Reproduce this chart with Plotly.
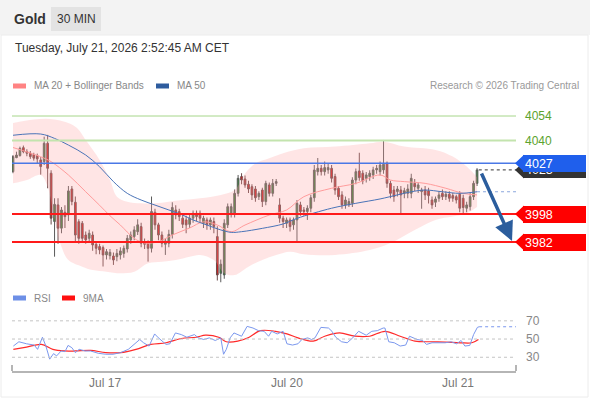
import plotly.graph_objects as go

# ---------------- data ----------------
candle_open = [4022.2, 4030.2, 4031.4, 4035.9, 4033.6, 4032.7, 4032.0, 4031.3, 4028.9, 4028.0,
               4038.4, 4021.3, 3993.7, 4003.2, 3989.9, 3999.0, 3997.5, 4012.3, 4004.7, 3993.6,
               3992.7, 3986.0, 3984.1, 3986.0, 3980.7, 3979.4, 3978.8, 3974.6, 3974.2, 3974.0,
               3973.6, 3974.6, 3975.5, 3978.0, 3983.2, 3985.1, 3987.9, 3990.8, 3982.2, 3981.9,
               3978.4, 3999.0, 3991.8, 3986.0, 3980.7, 3981.3, 3986.4, 4000.3, 3999.4, 3995.6,
               3994.6, 3992.1, 3995.6, 3998.4, 3998.4, 3992.7, 3994.6, 3991.8, 3993.7, 3985.1,
               3964.1, 3963.2, 3991.8, 3998.4, 3998.4, 4009.8, 4019.4, 4018.0, 4015.0, 4013.6,
               4012.3, 4007.9, 4011.7, 4005.1, 4014.6, 4009.8, 4015.5, 4003.2, 3995.6, 3992.7,
               3994.6, 3991.8, 3994.6, 4003.2, 4000.3, 3999.4, 4001.3, 4007.3, 4022.2, 4024.1,
               4022.2, 4023.2, 4024.1, 4019.4, 4012.7, 4008.9, 4003.2, 4003.2, 4004.1, 4017.4,
               4022.6, 4021.3, 4018.4, 4019.4, 4020.3, 4023.2, 4022.2, 4023.2, 4027.0, 4015.5,
               4011.7, 4010.8, 4011.7, 4009.8, 4009.8, 4009.8, 4015.5, 4012.7, 4010.8, 4011.7,
               4011.2, 4006.0, 4004.7, 4007.0, 4009.8, 4007.9, 4009.3, 4008.5, 4007.9, 4009.3,
               4007.0, 4001.3, 4002.2, 4007.9, 4015.5]
candle_high = [4031.7, 4033.6, 4036.5, 4037.1, 4035.0, 4034.0, 4033.0, 4032.5, 4030.5, 4042.2,
               4043.2, 4023.0, 4007.0, 4007.0, 4002.0, 4003.0, 4014.0, 4014.0, 4008.0, 3995.0,
               3994.0, 3988.0, 3989.0, 3988.0, 3982.0, 3981.0, 3980.0, 3978.0, 3978.0, 3976.0,
               3978.0, 3979.0, 3980.0, 3986.0, 3988.0, 3991.0, 3995.0, 3993.0, 3984.0, 3983.0,
               4008.0, 4001.0, 3993.0, 3988.0, 3984.0, 3989.0, 4004.7, 4003.0, 4001.0, 3998.0,
               3997.0, 3998.0, 4000.0, 4000.0, 4000.0, 3997.0, 3996.0, 3996.0, 3996.0, 3991.0,
               3972.0, 3995.0, 4004.0, 4004.0, 4012.0, 4020.3, 4021.3, 4020.0, 4017.0, 4015.0,
               4014.0, 4011.0, 4013.0, 4017.0, 4016.0, 4018.0, 4018.0, 4007.0, 3997.0, 3996.0,
               3996.0, 3996.0, 4006.0, 4005.0, 4002.0, 4003.0, 4009.0, 4026.0, 4030.0, 4026.0,
               4028.0, 4027.0, 4026.0, 4021.0, 4014.0, 4011.0, 4008.0, 4007.0, 4019.0, 4024.0,
               4033.0, 4023.0, 4022.0, 4023.0, 4025.0, 4026.0, 4028.0, 4040.3, 4028.0, 4017.0,
               4014.0, 4014.0, 4014.0, 4013.0, 4015.0, 4021.0, 4018.0, 4016.0, 4013.0, 4014.0,
               4013.0, 4008.0, 4008.0, 4011.0, 4012.0, 4011.0, 4011.0, 4010.0, 4009.0, 4011.0,
               4009.0, 4005.0, 4010.0, 4017.0, 4024.2]
candle_low = [4021.3, 4029.9, 4030.8, 4032.7, 4031.0, 4029.5, 4028.5, 4027.0, 4020.5, 4026.0,
              4012.7, 3992.0, 3973.6, 3981.0, 3987.0, 3990.0, 3994.0, 4003.0, 3982.0, 3981.0,
              3982.0, 3981.0, 3982.0, 3977.0, 3975.0, 3975.0, 3968.0, 3972.0, 3972.0, 3968.9,
              3971.0, 3972.0, 3973.0, 3976.0, 3981.0, 3983.0, 3986.0, 3979.0, 3978.0, 3970.8,
              3976.0, 3989.0, 3983.0, 3979.0, 3974.6, 3979.0, 3984.0, 3995.0, 3994.0, 3990.0,
              3987.0, 3990.0, 3993.0, 3994.0, 3993.0, 3990.0, 3989.0, 3989.0, 3987.0, 3960.0,
              3959.0, 3961.0, 3990.0, 3996.0, 3996.0, 4008.0, 4015.0, 4013.0, 4010.0, 4006.0,
              4005.0, 4006.0, 4002.0, 4003.0, 4008.0, 4008.0, 4014.0, 3993.0, 3990.0, 3990.0,
              3988.0, 3989.0, 3982.2, 3997.0, 3997.0, 3994.6, 3999.0, 4005.0, 4020.0, 4020.0,
              4020.0, 4021.0, 4016.0, 4009.0, 4006.0, 4001.0, 4001.0, 4002.0, 4002.0, 4015.0,
              4017.0, 4015.0, 4016.0, 4017.0, 4018.0, 4021.0, 4020.0, 4021.0, 4013.0, 4007.0,
              4005.0, 4008.0, 3997.5, 4007.0, 4007.0, 4007.0, 4011.0, 4010.0, 4001.0, 4006.0,
              4004.0, 4001.0, 4002.0, 4005.0, 4006.0, 4006.0, 4005.0, 4005.0, 4004.0, 3999.0,
              3998.5, 3999.0, 4000.0, 4006.0, 4014.0]
candle_close = [4030.8, 4031.7, 4035.5, 4033.6, 4032.7, 4030.8, 4029.9, 4029.5, 4025.1, 4038.4,
                4024.1, 3995.6, 4003.5, 3989.9, 4000.3, 3996.5, 4011.2, 4005.1, 3986.0, 3984.1,
                3984.1, 3983.2, 3987.0, 3980.3, 3978.4, 3977.5, 3974.6, 3976.5, 3976.1, 3971.7,
                3975.5, 3976.9, 3978.4, 3984.1, 3986.0, 3988.9, 3991.8, 3981.3, 3980.7, 3978.4,
                3999.4, 3991.8, 3986.0, 3981.3, 3982.6, 3986.4, 4001.7, 3997.5, 3996.5, 3992.1,
                3991.8, 3995.6, 3998.4, 3996.5, 3995.6, 3995.6, 3991.8, 3994.6, 3990.8, 3963.2,
                3969.3, 3992.7, 4002.2, 4002.2, 4009.8, 4018.4, 4017.4, 4014.6, 4012.3, 4008.9,
                4007.3, 4009.8, 4005.1, 4015.5, 4009.8, 4015.5, 4016.5, 3995.6, 3993.7, 3994.6,
                3990.8, 3994.6, 4004.1, 3999.4, 3999.4, 4001.3, 4007.3, 4023.1, 4024.1, 4022.2,
                4024.5, 4024.5, 4018.4, 4011.7, 4007.9, 4003.2, 4006.0, 4005.1, 4017.4, 4022.2,
                4018.8, 4016.9, 4020.3, 4021.3, 4023.2, 4024.1, 4026.0, 4026.4, 4015.5, 4009.8,
                4007.9, 4012.3, 4008.9, 4011.3, 4012.3, 4018.4, 4013.6, 4014.6, 4011.7, 4008.9,
                4008.5, 4003.2, 4006.6, 4008.9, 4007.9, 4009.3, 4007.0, 4007.0, 4006.0, 4001.3,
                4001.7, 4003.2, 4007.9, 4015.5, 4023.2]

ma20_x = [0, 8, 11, 16, 21, 25, 28, 31, 35, 38, 42, 46, 51, 55, 59, 63, 67, 74, 79, 84,
          92, 99, 106, 109, 113, 119, 125, 130, 134]
ma20_y = [4036.0, 4030.7, 4027.9, 4020.3, 4010.7, 4003.0, 3997.0, 3991.7, 3984.1, 3981.4,
          3982.2, 3986.0, 3990.0, 3993.5, 3991.7, 3987.9, 3991.7, 3997.4, 4000.3, 4007.9,
          4012.7, 4015.5, 4020.3, 4017.4, 4016.5, 4015.5, 4012.7, 4009.8, 4008.9]

ma50_x = [0, 8, 12, 16, 21, 25, 29, 33, 37, 41, 45, 49, 52, 56, 60, 63, 66, 72, 78, 82,
          92, 99, 106, 111, 115, 119, 124, 129, 134]
ma50_y = [4043.0, 4043.7, 4041.2, 4037.4, 4031.7, 4025.0, 4016.5, 4009.8, 4006.0, 4003.1,
          4000.3, 3997.4, 3994.6, 3991.7, 3988.9, 3987.5, 3987.9, 3989.8, 3992.3, 3995.5,
          4001.3, 4004.1, 4006.6, 4008.9, 4010.7, 4011.7, 4010.7, 4009.8, 4010.7]

bb_up_x = [0, 6, 12, 18, 21, 25, 28, 30, 33, 37, 41, 45, 49, 54, 60, 64, 67, 70, 74, 78,
           84, 93, 103, 107, 113, 122, 127, 131, 134]
bb_up_y = [4050.0, 4052.0, 4052.0, 4047.9, 4040.3, 4028.9, 4017.4, 4007.9, 4005.0, 4004.1,
           4004.1, 4005.0, 4006.0, 4007.0, 4008.9, 4011.7, 4021.2, 4026.9, 4029.8, 4032.7,
           4035.5, 4036.5, 4038.4, 4039.3, 4036.5, 4034.6, 4030.8, 4025.1, 4019.0]
bb_lo_x = [0, 4, 8, 10, 12, 14, 16, 20, 23, 27, 31, 35, 39, 43, 47, 51, 54, 58, 61, 64,
           68, 72, 76, 80, 84, 93, 103, 109, 116, 122, 127, 131, 134]
bb_lo_y = [4015.5, 4017.4, 4020.3, 4013.6, 3994.6, 3979.3, 3971.7, 3967.9, 3966.0, 3965.0,
           3964.1, 3965.0, 3969.8, 3970.7, 3971.7, 3973.6, 3974.6, 3971.7, 3964.1, 3963.1,
           3967.9, 3971.7, 3974.6, 3976.5, 3975.0, 3974.6, 3977.4, 3981.4, 3988.9, 3994.6,
           3996.5, 3998.4, 4002.0]

rsi_x = [0.1, 1.7, 3.9, 6.1, 7.1, 8.5, 9.5, 10.6, 11.7, 12.6, 13.9, 15.0, 15.9, 17.0, 18.0,
         19.1, 20.8, 22.4, 24.6, 26.8, 28.9, 31.1, 33.3, 34.9, 36.6, 37.7, 39.3, 40.9, 42.0,
         44.2, 45.3, 46.9, 48.6, 50.2, 52.4, 53.5, 55.1, 56.7, 58.4, 60.0, 60.8, 61.6, 62.7,
         63.8, 66.0, 67.6, 69.3, 70.9, 72.5, 73.8, 74.7, 76.3, 78.0, 79.1, 80.7, 82.3, 83.4,
         85.1, 86.2, 87.2, 88.9, 91.1, 92.1, 93.2, 94.9, 96.5, 98.1, 99.8, 100.9, 102.0,
         103.6, 105.2, 106.9, 107.4, 108.5, 110.1, 111.8, 113.4, 114.5, 115.6, 116.7, 118.3,
         119.4, 121.0, 122.7, 124.8, 126.5, 128.1, 129.4, 130.5, 131.9, 133.0, 134.1, 134.6]
rsi_y = [42.3, 47.0, 44.8, 43.4, 38.7, 52.0, 42.3, 27.9, 34.0, 31.5, 36.9, 36.2, 43.0, 40.5,
         35.1, 38.7, 36.9, 36.9, 34.4, 33.3, 33.3, 35.1, 38.7, 44.1, 49.5, 45.9, 42.3, 55.6,
         51.3, 44.1, 44.8, 56.7, 54.9, 52.0, 54.9, 51.3, 49.5, 51.3, 48.4, 51.3, 33.3, 38.7,
         51.3, 56.7, 53.1, 63.9, 62.1, 59.2, 58.5, 53.1, 58.5, 55.6, 58.5, 44.8, 43.4, 44.8,
         49.5, 51.3, 49.5, 51.3, 62.8, 62.1, 58.5, 52.0, 47.0, 45.9, 51.3, 58.5, 56.7, 54.2,
         58.5, 59.2, 62.1, 62.1, 47.0, 45.9, 42.3, 43.4, 53.1, 51.3, 49.5, 48.4, 44.1, 45.9,
         45.9, 45.9, 47.0, 44.8, 48.4, 42.3, 43.0, 54.9, 62.8, 63.5]
rsi_ma_x = [0.1, 3.9, 8.2, 11.5, 14.8, 18.0, 22.4, 26.8, 31.1, 35.5, 39.8, 44.2, 48.6, 52.9,
            55.6, 59.4, 61.6, 64.9, 68.2, 71.4, 75.8, 79.1, 82.3, 86.7, 90.0, 94.3, 98.7,
            103.0, 107.4, 111.8, 116.1, 120.5, 124.8, 129.2, 132.5, 134.4]
rsi_ma_y = [38.7, 41.2, 44.1, 38.7, 36.9, 36.9, 37.6, 35.1, 35.1, 38.7, 44.1, 45.9, 50.6, 52.0,
            54.2, 52.0, 47.0, 47.7, 52.0, 59.2, 58.5, 55.6, 51.3, 47.7, 53.1, 56.7, 53.1, 53.1,
            58.5, 53.1, 47.7, 47.0, 46.6, 45.9, 45.9, 49.5]

resistance_levels = [4054, 4040]
pivot_level = 4027
support_levels = [3998, 3982]
rsi_levels = [70, 50, 30]
tick_pos = [26.6, 79.1, 128.5]
tick_text = ["Jul 17", "Jul 20", "Jul 21"]
arrow_from = (135.1, 4022.0)
arrow_to = (144.1, 3982.6)

# ---------------- geometry ----------------
W, H = 590, 400
ML, MR = 12, 74
PW = W - ML - MR
FONT = "Liberation Sans, Arial, sans-serif"


def px(x):
    return (x - ML) / PW


def py(y):
    return 1 - y / H


X_RANGE = [-0.29, 145.25]
Y_RANGE = [3957.43, 4063.14]
R_RANGE = [14.9, 81.9]

fig = go.Figure()

# Bollinger band area
fig.add_trace(go.Scatter(x=bb_lo_x, y=bb_lo_y, mode="lines", line=dict(width=0, shape="spline"),
                         hoverinfo="skip", xaxis="x", yaxis="y"))
fig.add_trace(go.Scatter(x=bb_up_x, y=bb_up_y, mode="lines", line=dict(width=0, shape="spline"),
                         fill="tonexty", fillcolor="rgba(255,160,160,0.28)",
                         hoverinfo="skip", xaxis="x", yaxis="y"))
fig.add_trace(go.Scatter(x=ma20_x, y=ma20_y, mode="lines",
                         line=dict(color="#ff9c9c", width=1, shape="spline"), xaxis="x", yaxis="y"))
fig.add_trace(go.Scatter(x=ma50_x, y=ma50_y, mode="lines",
                         line=dict(color="#4a74b8", width=1, shape="spline"), xaxis="x", yaxis="y"))

idx = list(range(len(candle_close)))
fig.add_trace(go.Candlestick(
    x=idx, open=candle_open, high=candle_high, low=candle_low, close=candle_close,
    increasing=dict(line=dict(color="#5a5a5a", width=1), fillcolor="#2f8a2f"),
    decreasing=dict(line=dict(color="#6a4a4a", width=1), fillcolor="#ee1111"),
    whiskerwidth=0, xaxis="x", yaxis="y"))

# RSI pane
fig.add_trace(go.Scatter(x=rsi_ma_x, y=rsi_ma_y, mode="lines",
                         line=dict(color="#ff2a2a", width=1.2, shape="spline"), xaxis="x", yaxis="y2"))
fig.add_trace(go.Scatter(x=rsi_x, y=rsi_y, mode="lines",
                         line=dict(color="#7b98ee", width=1), xaxis="x", yaxis="y2"))
fig.add_trace(go.Scatter(x=[rsi_x[-1], X_RANGE[1]], y=[rsi_y[-1], rsi_y[-1]], mode="lines",
                         line=dict(color="#7b98ee", width=1.2, dash="dot"), xaxis="x", yaxis="y2"))

shapes = []
ann = []

# header band
shapes.append(dict(type="rect", xref="paper", yref="paper", x0=px(0), x1=px(590), y0=py(35), y1=py(0),
                   fillcolor="#f3f3f3", line=dict(width=0), layer="below"))
shapes.append(dict(type="rect", xref="paper", yref="paper", x0=px(51), x1=px(101), y0=py(31), y1=py(7),
                   fillcolor="#e3e3e3", line=dict(width=0), layer="below"))
shapes.append(dict(type="rect", xref="paper", yref="paper", x0=px(1), x1=px(588), y0=py(397), y1=py(35),
                   fillcolor="rgba(0,0,0,0)", line=dict(color="#ececec", width=1), layer="below"))

ann.append(dict(text="<b>Gold</b>", x=px(12), y=py(19), xref="paper", yref="paper", xanchor="left",
                yanchor="middle", showarrow=False, font=dict(size=14, color="#333", family=FONT)))
ann.append(dict(text="30 MIN", x=px(76), y=py(19), xref="paper", yref="paper", xanchor="center",
                yanchor="middle", showarrow=False, font=dict(size=12, color="#333", family=FONT)))
ann.append(dict(text="Tuesday, July 21, 2026 2:52:45 AM CET", x=px(13), y=py(48), xref="paper", yref="paper",
                xanchor="left", yanchor="middle", showarrow=False, font=dict(size=12, color="#333", family=FONT)))


# legends
def swatch(x0, y, color):
    shapes.append(dict(type="rect", xref="paper", yref="paper", x0=px(x0), x1=px(x0 + 13),
                       y0=py(y + 2.5), y1=py(y - 2.5), fillcolor=color, line=dict(width=0)))


def label(text, x, y, color="#888", size=10, anchor="left"):
    ann.append(dict(text=text, x=px(x), y=py(y), xref="paper", yref="paper", xanchor=anchor,
                    yanchor="middle", showarrow=False, font=dict(size=size, color=color, family=FONT)))


swatch(13, 86, "#ff8383")
label("MA 20 + Bollinger Bands", 32, 86)
swatch(156, 86, "#2e5c9e")
label("MA 50", 175, 86)
label("Research © 2026 Trading Central", 581, 86, color="#999", anchor="right")
swatch(13, 298, "#6d8fe6")
label("RSI", 32, 298)
swatch(62, 298, "#ff1010")
label("9MA", 81, 298)

# level lines
for lv, col, wd in zip(resistance_levels, ["#a6d68a", "#c3e4ae"], [1, 2]):
    shapes.append(dict(type="line", xref="paper", yref="y", x0=0, x1=1, y0=lv, y1=lv,
                       line=dict(color=col, width=wd)))
    ann.append(dict(text=str(lv), x=1, xref="paper", y=lv, yref="y", xanchor="left", xshift=7,
                    yanchor="middle", showarrow=False, font=dict(size=12, color="#5ca32e", family=FONT)))

shapes.append(dict(type="line", xref="paper", yref="y", x0=0, x1=1, y0=pivot_level, y1=pivot_level,
                   line=dict(color="#4a78e6", width=1.5)))
for lv in support_levels:
    shapes.append(dict(type="line", xref="paper", yref="y", x0=0, x1=1, y0=lv, y1=lv,
                       line=dict(color="#ff1a1a", width=2)))

# dotted current price and MA50 lines
last = candle_close[-1]
shapes.append(dict(type="line", xref="x", yref="y", x0=len(idx) - 0.5, x1=X_RANGE[1], y0=last, y1=last,
                   line=dict(color="#333", width=1, dash="dot")))
shapes.append(dict(type="line", xref="x", yref="y", x0=len(idx) - 1, x1=X_RANGE[1], y0=ma50_y[-1],
                   y1=ma50_y[-1], line=dict(color="#8aa6dd", width=1.2, dash="dot")))

TIP = "M -1 0 L 8 8.5 L 8 -8.5 Z"


def tag(level, color, text, txtcolor="white"):
    shapes.append(dict(type="path", xref="paper", yref="y", xsizemode="pixel", ysizemode="pixel",
                       xanchor=1, yanchor=level, path=TIP, fillcolor=color, line=dict(width=0)))
    ann.append(dict(text=text, x=1, xref="paper", y=level, yref="y", xanchor="left", xshift=7,
                    yanchor="middle", showarrow=False, bgcolor=color, borderpad=2, borderwidth=0,
                    width=59, height=13, align="left",
                    font=dict(size=12.5, color=txtcolor, family=FONT)))


tag(last, "#333333", f"{last:.0f}")
tag(pivot_level, "#1f5fec", str(pivot_level))
for lv in support_levels:
    tag(lv, "#ff0000", str(lv))

# arrow
ann.append(dict(x=arrow_to[0], y=arrow_to[1], ax=arrow_from[0], ay=arrow_from[1], xref="x", yref="y",
                axref="x", ayref="y", showarrow=True, arrowhead=2, arrowsize=1.1, arrowwidth=3.5,
                arrowcolor="#2b5d9d", text=""))

# RSI levels
for lv in rsi_levels:
    shapes.append(dict(type="line", xref="paper", yref="y2", x0=0, x1=1, y0=lv, y1=lv,
                       line=dict(color="#c4c4c4", width=1, dash="dot")))
    ann.append(dict(text=str(lv), x=1, xref="paper", y=lv, yref="y2", xanchor="left", xshift=8,
                    yanchor="middle", showarrow=False, font=dict(size=12, color="#888", family=FONT)))

# x axis end caps
for xc in [ML, ML + PW]:
    shapes.append(dict(type="line", xref="paper", yref="paper", x0=px(xc), x1=px(xc), y0=py(371),
                       y1=py(365), line=dict(color="#b5b5b5", width=2)))

fig.update_layout(
    width=W, height=H, margin=dict(l=ML, r=MR, t=0, b=0),
    paper_bgcolor="white", plot_bgcolor="rgba(0,0,0,0)", showlegend=False,
    font=dict(family=FONT),
    xaxis=dict(range=X_RANGE, anchor="y2", showgrid=False, zeroline=False, showline=True,
               linecolor="#b5b5b5", linewidth=2, ticks="", tickvals=tick_pos, ticktext=tick_text,
               tickfont=dict(size=12, color="#777", family=FONT), rangeslider=dict(visible=False),
               fixedrange=True),
    yaxis=dict(domain=[py(285), py(100)], range=Y_RANGE, showgrid=False, zeroline=False,
               showticklabels=False, fixedrange=True),
    yaxis2=dict(domain=[py(371), py(310)], range=R_RANGE, showgrid=False, zeroline=False,
                showticklabels=False, fixedrange=True),
    shapes=shapes, annotations=ann,
)

fig.write_html("out.html", config={"displayModeBar": False},
               post_script="document.body.style.margin='0';")
